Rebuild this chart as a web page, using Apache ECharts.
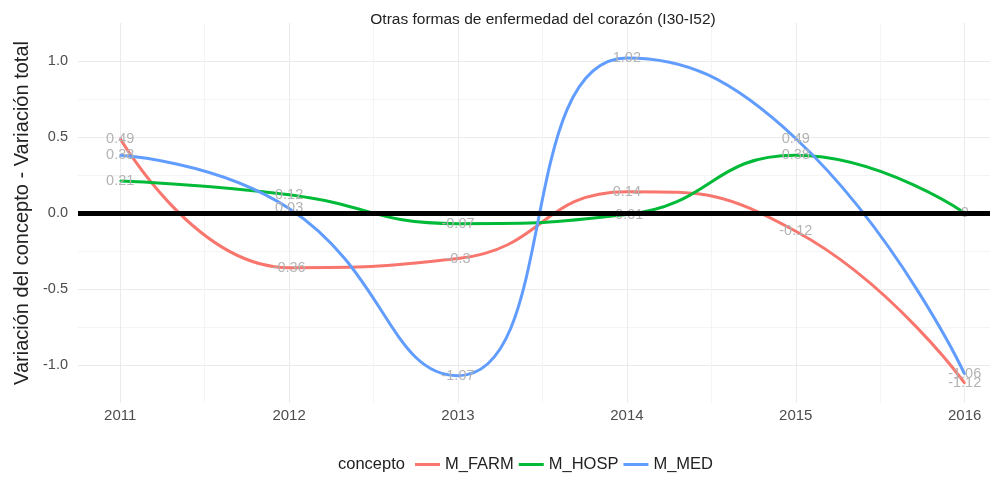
<!DOCTYPE html>
<html>
<head>
<meta charset="utf-8">
<script src="https://cdn.jsdelivr.net/npm/echarts@6/dist/echarts.min.js"></script>
<style>
  html, body { margin: 0; padding: 0; background: #fff; }
  #chart { width: 995px; height: 502px; }
</style>
</head>
<body>
<div id="chart"></div>
<script>
// datos
const years = [2011, 2012, 2013, 2014, 2015, 2016];
const mFarm = [0.49, -0.36, -0.3, 0.14, -0.12, -1.12];
const mHosp = [0.21, 0.12, -0.07, -0.01, 0.38, 0];
const mMed = [0.38, 0.03, -1.07, 1.02, 0.49, -1.06];
const seriesNames = ['M_FARM', 'M_HOSP', 'M_MED'];
const colors = ['#F8766D', '#00BA38', '#619CFF'];

const FONT = 'Liberation Sans, Arial, sans-serif';
const MAJOR = '#ebebeb';
const MINOR = '#f4f4f4';

function mkSeries(name, values, color) {
  return {
    name: name,
    type: 'line',
    smooth: 0.5,
    symbol: 'circle',
    symbolSize: 2,
    showSymbol: true,
    data: years.map((y, i) => [y, values[i]]),
    lineStyle: { color: color, width: 3 },
    itemStyle: { color: color },
    label: {
      show: true,
      position: 'inside',
      color: '#b3b3b3',
      fontSize: 14.5,
      fontFamily: FONT,
      formatter: p => String(p.value[1])
    },
    emphasis: { disabled: true }
  };
}

const chart = echarts.init(document.getElementById('chart'));

const series = [
  mkSeries(seriesNames[0], mFarm, colors[0]),
  mkSeries(seriesNames[1], mHosp, colors[1]),
  mkSeries(seriesNames[2], mMed, colors[2])
];
// línea horizontal en cero
series[0].markLine = {
  silent: true,
  symbol: 'none',
  label: { show: false },
  lineStyle: { color: '#000', width: 5, type: 'solid' },
  data: [{ yAxis: 0 }],
  z: 10
};

chart.setOption({
  animation: false,
  backgroundColor: '#fff',
  title: [
    {
      text: 'Otras formas de enfermedad del corazón (I30-I52)',
      left: 538,
      textAlign: 'center',
      top: 7,
      textStyle: { fontSize: 15.5, fontWeight: 'normal', color: '#222', fontFamily: FONT }
    },
    {
      text: 'concepto',
      left: 333,
      top: 451,
      textStyle: { fontSize: 16.5, fontWeight: 'normal', color: '#222', fontFamily: FONT }
    }
  ],
  legend: {
    data: seriesNames,
    left: 410,
    top: 451,
    icon: 'rect',
    itemWidth: 25,
    itemHeight: 3,
    itemGap: 5,
    textStyle: { fontSize: 16.5, color: '#222', fontFamily: FONT }
  },
  grid: { left: 78, right: 5, top: 23, bottom: 99 },
  xAxis: {
    type: 'value',
    min: 2010.75,
    max: 2016.15,
    interval: 0.25,
    axisLine: { show: false },
    axisTick: { show: false },
    axisLabel: {
      margin: 5,
      fontSize: 15,
      color: '#4d4d4d',
      fontFamily: FONT,
      showMinLabel: true,
      showMaxLabel: true,
      formatter: v => Math.abs(v - Math.round(v)) < 1e-6 ? String(Math.round(v)) : ''
    },
    splitLine: {
      show: true,
      lineStyle: { color: ['transparent', MAJOR, 'transparent', MINOR], width: 1 }
    }
  },
  yAxis: {
    type: 'value',
    min: -1.25,
    max: 1.25,
    interval: 0.25,
    name: 'Variación del concepto - Variación total',
    nameLocation: 'middle',
    nameGap: 46,
    nameTextStyle: { fontSize: 20, color: '#222', fontFamily: FONT },
    axisLine: { show: false },
    axisTick: { show: false },
    axisLabel: {
      margin: 10,
      fontSize: 14.5,
      color: '#4d4d4d',
      fontFamily: FONT,
      formatter: v => (Math.abs(v * 2 - Math.round(v * 2)) < 1e-6 && Math.abs(v) < 1.2) ? v.toFixed(1) : ''
    },
    splitLine: {
      show: true,
      lineStyle: {
        color: ['transparent', MAJOR, MINOR, MAJOR, MINOR, MAJOR, MINOR, MAJOR, MINOR, MAJOR, 'transparent'],
        width: 1
      }
    }
  },
  series: series
});
</script>
</body>
</html>
